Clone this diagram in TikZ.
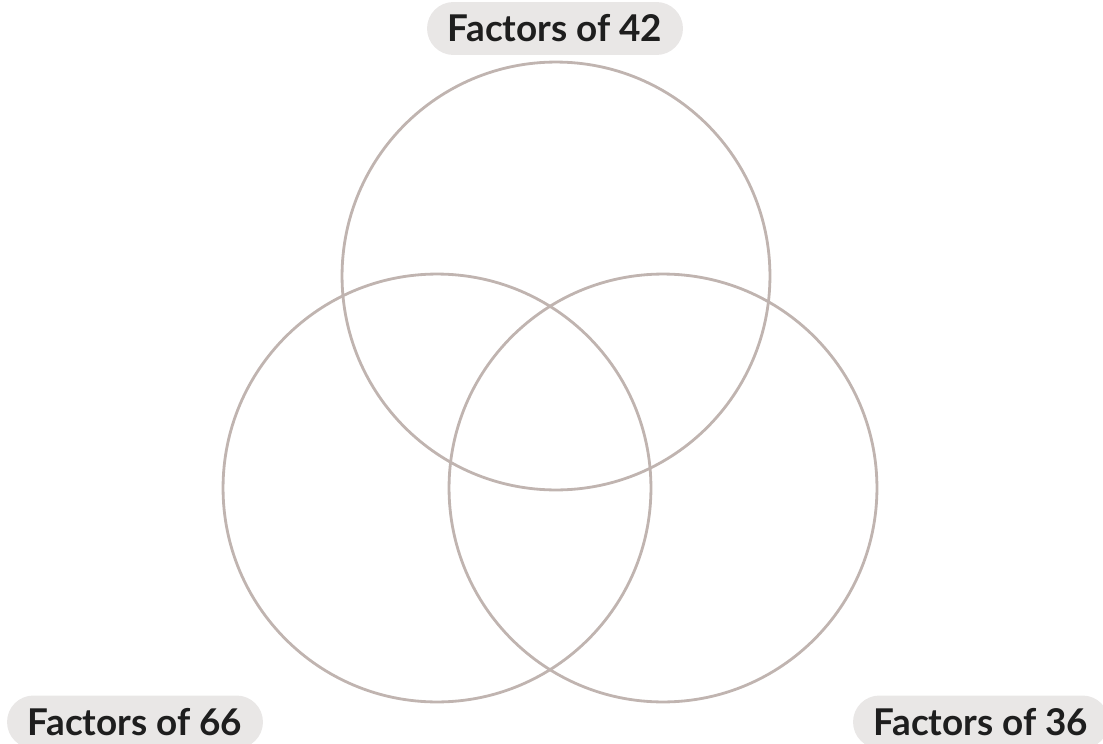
\documentclass[tikz,border=0pt]{standalone}
\usepackage{fontspec}
\setmainfont{Lato}
\definecolor{vnring}{RGB}{192,180,176}
\definecolor{vnpill}{RGB}{233,231,230}
\definecolor{vntext}{RGB}{30,30,30}
\usetikzlibrary{positioning}

\begin{document}
\begin{tikzpicture}[x=0.02cm, y=-0.02cm,
  ring/.style={circle, draw=vnring, line width=1.6pt, minimum size=8.56cm, inner sep=0pt},
  pill/.style={fill=vnpill, rounded corners=0.53cm, minimum width=5.12cm, minimum height=1.06cm, inner sep=0pt,
    text=vntext, font=\fontsize{21}{24}\selectfont\bfseries}]
\useasboundingbox (0,0) rectangle (1103,744);
% Circles
\node[ring] (r42) at (556,276) {};
\node[ring] (r66) at (437,488) {};
\node[ring] (r36) at (663,488) {};
% Labels
\node[pill] (l42) at (555,28.5) {Factors of 42};
\node[pill] (l66) at (135,722) {Factors of 66};
\node[pill] (l36) at (981,722) {Factors of 36};
\end{tikzpicture}
\end{document}
